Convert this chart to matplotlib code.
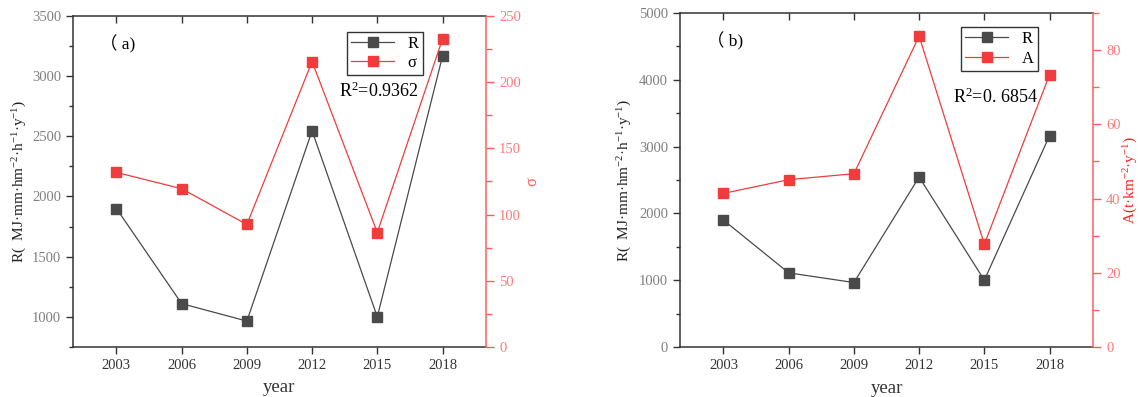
import numpy as np
import matplotlib
matplotlib.use("Agg")
import matplotlib.pyplot as plt

plt.rcParams['font.family'] = ['Liberation Serif', 'Noto Sans CJK SC', 'DejaVu Serif']
plt.rcParams['mathtext.fontset'] = 'custom'
plt.rcParams['mathtext.rm'] = 'Liberation Serif'
plt.rcParams['mathtext.it'] = 'Liberation Serif:italic'
plt.rcParams['mathtext.default'] = 'regular'

years = [2003, 2006, 2009, 2012, 2015, 2018]
R = [1900, 1110, 965, 2545, 1000, 3165]
sigma = [131.8, 119.5, 92.5, 215.5, 86.4, 232.6]
A = [41.4, 45.1, 46.7, 83.8, 27.7, 73.4]

GRAY = '#4a4a4a'
RED = '#f03c3c'
RSPINE = '#ff5e5e'
RTICK = '#ff7a7a'

fig = plt.figure(figsize=(11.4, 3.97), dpi=100)


def panel(rect, r_lim, r_major, r_minor, y2, y2_lim, y2_major, y2_minor,
          y2_label, y2_label_color, y2_fs, lbl2, tag, r2, leg_xy, r2_xy, ylab_x, y2lab_x):
    ax = fig.add_axes(rect)
    ax2 = ax.twinx()
    ax.plot(years, R, color=GRAY, lw=0.9, marker='s', ms=6.5, mfc=GRAY, mec=GRAY, label='R')
    ax2.plot(years, y2, color=RED, lw=0.9, marker='s', ms=6.5, mfc=RED, mec=RED, label=lbl2)

    ax.set_xlim(2001, 2020)
    ax.set_xticks(years)
    ax.set_ylim(*r_lim)
    ax.set_yticks(r_major)
    ax.set_yticks(r_minor, minor=True)
    ax2.set_ylim(*y2_lim)
    ax2.set_yticks(y2_major)
    ax2.set_yticks(y2_minor, minor=True)

    ax.tick_params(axis='x', direction='out', length=5, width=1, labelsize=10.5,
                   labelcolor='#333333', colors='#333333')
    ax.tick_params(axis='y', which='major', direction='out', length=5, width=1,
                   labelsize=10.5, labelcolor='#808080', color='#333333')
    ax.tick_params(axis='y', which='minor', direction='out', length=3, width=1, color='#333333')
    top = ax.secondary_xaxis('top')
    top.set_xticks(years)
    top.tick_params(direction='in', length=5, width=1, labeltop=False, color='#333333')
    top.spines['top'].set_visible(False)

    ax2.tick_params(axis='y', which='major', direction='out', length=6, width=1,
                    labelsize=10.5, labelcolor=RTICK, color=RSPINE)
    ax2.tick_params(axis='y', which='minor', direction='out', length=4, width=1, color=RSPINE)

    for s in ['left', 'bottom', 'top']:
        ax.spines[s].set_color('#333333')
        ax.spines[s].set_linewidth(1.1)
    ax.spines['right'].set_visible(False)
    ax2.spines['right'].set_color(RSPINE)
    ax2.spines['right'].set_linewidth(1.1)
    for s in ['left', 'bottom', 'top']:
        ax2.spines[s].set_visible(False)

    ax.set_xlabel('year', fontsize=13.5, color='#333333')
    ax.xaxis.set_label_coords(0.5, -0.098)
    ax.set_ylabel('R(  MJ·mm·hm$^{-2}$·h$^{-1}$·y$^{-1}$)', fontsize=11, color='#222222')
    ax.yaxis.set_label_coords(ylab_x, 0.5)
    ax2.set_ylabel(y2_label, fontsize=y2_fs, color=y2_label_color)
    ax2.yaxis.set_label_coords(y2lab_x, 0.5)

    ax.text(0.065, 0.915, tag, transform=ax.transAxes, fontsize=12.5, va='center')
    ax.text(r2_xy[0], r2_xy[1], r2, transform=ax.transAxes, fontsize=13,
            ha='center', va='center')

    h1, l1 = ax.get_legend_handles_labels()
    h2, l2 = ax2.get_legend_handles_labels()
    leg = ax2.legend(h1 + h2, l1 + l2, loc='upper left', bbox_to_anchor=leg_xy,
                     borderaxespad=0, fontsize=12, frameon=True, fancybox=False,
                     edgecolor='black', handlelength=2.6, handletextpad=0.8,
                     labelspacing=0.2, borderpad=0.25)
    leg.get_frame().set_linewidth(1.0)
    return ax, ax2


panel([0.064, 0.126, 0.3623, 0.834], (750, 3500),
      np.arange(1000, 3501, 500), np.arange(750, 3501, 250),
      sigma, (0, 250), np.arange(0, 251, 50), np.arange(0, 251, 25),
      'σ', '#ff6060', 12, 'σ', '（ a)', 'R$^2$=0.9362', (0.663, 0.952), (0.741, 0.773),
      -0.106, 1.094)

panel([0.5965, 0.126, 0.3623, 0.841], (0, 5000),
      np.arange(0, 5001, 1000), np.arange(0, 5001, 500),
      A, (0, 90), np.arange(0, 81, 20), np.arange(0, 91, 10),
      'A(t·km$^{-2}$·y$^{-1}$)', '#ff2020', 11, 'A', '（ b)', 'R$^2$=0. 6854', (0.680, 0.958), (0.763, 0.749),
      -0.111, 1.070)

fig.savefig('out.png', dpi=100)
